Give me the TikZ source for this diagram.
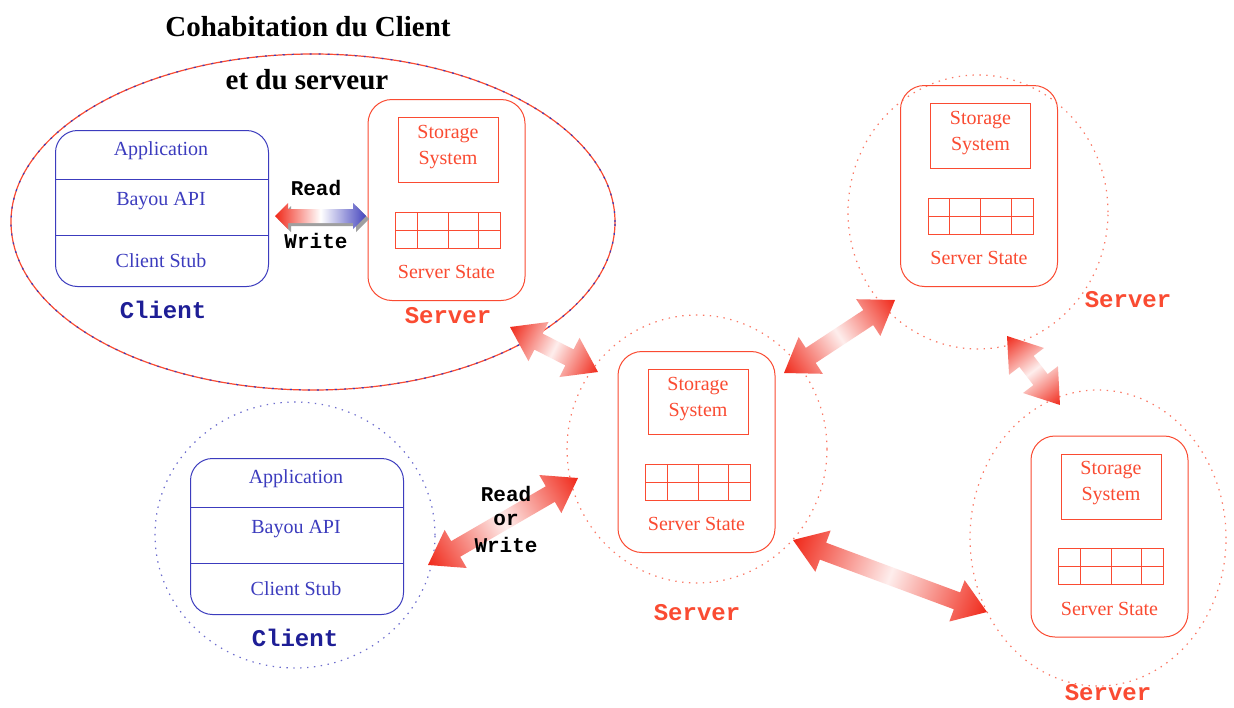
\documentclass[tikz,border=0pt]{standalone}
\usepackage{fontspec}
\setmainfont{Liberation Serif}
\setmonofont{Liberation Mono}
\usetikzlibrary{calc,shapes.geometric}

\definecolor{sred}{RGB}{250,75,50}
\definecolor{fared}{RGB}{240,40,25}
\definecolor{cblue}{RGB}{60,60,190}
\definecolor{lblue}{RGB}{30,30,150}
\definecolor{rwblue}{RGB}{70,70,190}

\tikzset{
  srvbox/.style={draw=sred, line width=1pt, rounded corners=24pt,
    minimum width=157pt, minimum height=201pt, inner sep=0pt},
  storbox/.style={draw=sred, line width=1pt, minimum width=100pt,
    minimum height=65pt, inner sep=0pt},
  gridbox/.style={draw=sred, line width=1pt, minimum width=105pt,
    minimum height=36pt, inner sep=0pt},
  clibox/.style={draw=cblue, line width=1pt, rounded corners=22pt,
    minimum width=213pt, minimum height=156pt, inner sep=0pt},
  stxt/.style={text=sred, font=\fontsize{20}{21}\selectfont, inner sep=0pt},
  ctxt/.style={text=cblue, font=\fontsize{20}{21}\selectfont, inner sep=0pt},
  srvlabel/.style={text=sred, font=\ttfamily\bfseries\fontsize{24}{26}\selectfont, inner sep=0pt},
  clilabel/.style={text=lblue, font=\ttfamily\bfseries\fontsize{24}{26}\selectfont, inner sep=0pt},
  rwlabel/.style={text=black, font=\ttfamily\bfseries\fontsize{21}{23}\selectfont, inner sep=0pt},
  titletxt/.style={text=black, font=\bfseries\fontsize{29}{31}\selectfont, inner sep=0pt},
  srvring/.style={ellipse, draw=sred!75, line width=1.2pt,
    dash pattern=on 1.4pt off 5.5pt, inner sep=0pt},
  criring/.style={ellipse, draw=cblue!75, line width=1.2pt,
    dash pattern=on 1.4pt off 5.5pt, inner sep=0pt},
}

% one server: rounded frame, storage box, state table and captions
\newcommand\serverunit[3]{% name, centre x, centre y
  \node[srvbox] (#1) at (#2,#3) {};
  \node[storbox] (#1st) at (#2+1.5,#3-50) {};
  \node[stxt] (#1t1) at (#2+1.5,#3-66) {Storage};
  \node[stxt] (#1t2) at (#2+1.5,#3-40) {System};
  \node[gridbox] (#1gr) at (#2+1.5,#3+30) {};
  \draw[sred, line width=1pt] (#1gr.west) -- (#1gr.east)
    ($(#1gr.south west)!0.21!(#1gr.south east)$) -- ($(#1gr.north west)!0.21!(#1gr.north east)$)
    ($(#1gr.south west)!0.50!(#1gr.south east)$) -- ($(#1gr.north west)!0.50!(#1gr.north east)$)
    ($(#1gr.south west)!0.79!(#1gr.south east)$) -- ($(#1gr.north west)!0.79!(#1gr.north east)$);
  \node[stxt] (#1ss) at (#2,#3+72) {Server State};
}

% one client: rounded frame split in three layers
\newcommand\clientunit[3]{% name, left, top
  \node[clibox, anchor=north west] (#1) at (#2,#3) {};
  \draw[cblue, line width=1pt]
    ([yshift=-49pt]#1.north west) -- ([yshift=-49pt]#1.north east)
    ([yshift=-105pt]#1.north west) -- ([yshift=-105pt]#1.north east);
  \node[ctxt] (#1a) at (#2+106,#3+21) {Application};
  \node[ctxt] (#1b) at (#2+106,#3+71) {Bayou API};
  \node[ctxt] (#1c) at (#2+106,#3+131) {Client Stub};
}

% wide double arrow, red at both heads and pale in the middle
\newcommand\fatarrow[2]{%
  \path (#1); \pgfgetlastxy{\faxa}{\faya}%
  \path (#2); \pgfgetlastxy{\faxb}{\fayb}%
  \pgfmathsetmacro\faang{atan2(\fayb-\faya,\faxb-\faxa)}%
  \pgfmathsetmacro\falen{veclen(\faxb-\faxa,\fayb-\faya)}%
  \begin{scope}[transform canvas={shift={(#1)},rotate=\faang}]
    \shade[left color=fared, right color=fared, middle color=fared!8]
      (0pt,0pt) -- (32pt,22pt) -- (32pt,9pt) -- (\falen pt-32pt,9pt)
      -- (\falen pt-32pt,22pt) -- (\falen pt,0pt) -- (\falen pt-32pt,-22pt)
      -- (\falen pt-32pt,-9pt) -- (32pt,-9pt) -- (32pt,-22pt) -- cycle;
  \end{scope}}

\begin{document}
\begin{tikzpicture}[x=1pt,y=-1pt]
\useasboundingbox[fill=white] (0,0) rectangle (1234,707);

% client and server sharing one machine
\node[ellipse, draw=sred, line width=1.2pt, minimum width=604pt,
  minimum height=336pt, inner sep=0pt] (cohab) at (313,222) {};
\node[ellipse, draw=cblue, line width=1.2pt, dash pattern=on 2pt off 7pt,
  minimum width=604pt, minimum height=336pt, inner sep=0pt] (cohabb) at (313,222) {};
\node[titletxt] (title1) at (308,27) {Cohabitation du Client};
\node[titletxt] (title2) at (307,80) {et du serveur};

\clientunit{cA}{55}{130}
\node[clilabel] (cAlab) at (163,310) {Client};
\serverunit{sA}{446.5}{200}
\node[srvlabel] (sAlab) at (448,316) {Server};

% local read / write arrow
\coordinate (rwL) at (275,216);
\coordinate (rwR) at (366,216);
\begin{scope}[transform canvas={shift={(rwL)}}]
  \fill[gray!75] (3pt,-3pt) -- (16pt,10pt) -- (16pt,4pt) -- (81pt,4pt) -- (81pt,10pt)
    -- (94pt,-3pt) -- (81pt,-16pt) -- (81pt,-10pt) -- (16pt,-10pt) -- (16pt,-16pt) -- cycle;
  \shade[left color=fared, right color=rwblue, middle color=white]
    (0pt,0pt) -- (13pt,13pt) -- (13pt,7pt) -- (78pt,7pt) -- (78pt,13pt)
    -- (91pt,0pt) -- (78pt,-13pt) -- (78pt,-7pt) -- (13pt,-7pt) -- (13pt,-13pt) -- cycle;
\end{scope}
\node[rwlabel] (rwr) at (316,188) {Read};
\node[rwlabel] (rww) at (316,241) {Write};

% remote client
\node[criring, minimum width=280pt, minimum height=266pt] (cBring) at (295,535) {};
\clientunit{cB}{190}{458}
\node[clilabel] (cBlab) at (295,638) {Client};

% replicated servers
\node[srvring, minimum width=260pt, minimum height=268pt] (sBring) at (697,449) {};
\serverunit{sB}{696.5}{452}
\node[srvlabel] (sBlab) at (697,613) {Server};

\node[srvring, minimum width=260pt, minimum height=274pt] (sCring) at (978,212) {};
\serverunit{sC}{979}{186}
\node[srvlabel] (sClab) at (1128,300) {Server};

\node[srvring, minimum width=256pt, minimum height=296pt] (sDring) at (1098,538) {};
\serverunit{sD}{1109.5}{536.5}
\node[srvlabel] (sDlab) at (1108,693) {Server};

% anti-entropy and access arrows
\coordinate (e1a) at (510,327);  \coordinate (e1b) at (598,372);
\coordinate (e2a) at (784,373);  \coordinate (e2b) at (895,300);
\coordinate (e3a) at (1007,336); \coordinate (e3b) at (1060,405);
\coordinate (e4a) at (793,540);  \coordinate (e4b) at (987,612);
\coordinate (e5a) at (428,565);  \coordinate (e5b) at (578,478);
\fatarrow{e1a}{e1b}
\fatarrow{e2a}{e2b}
\fatarrow{e3a}{e3b}
\fatarrow{e4a}{e4b}
\fatarrow{e5a}{e5b}

\node[rwlabel] (rw2a) at (506,494) {Read};
\node[rwlabel] (rw2b) at (506,520) {or};
\node[rwlabel] (rw2c) at (506,545) {Write};
\end{tikzpicture}
\end{document}
